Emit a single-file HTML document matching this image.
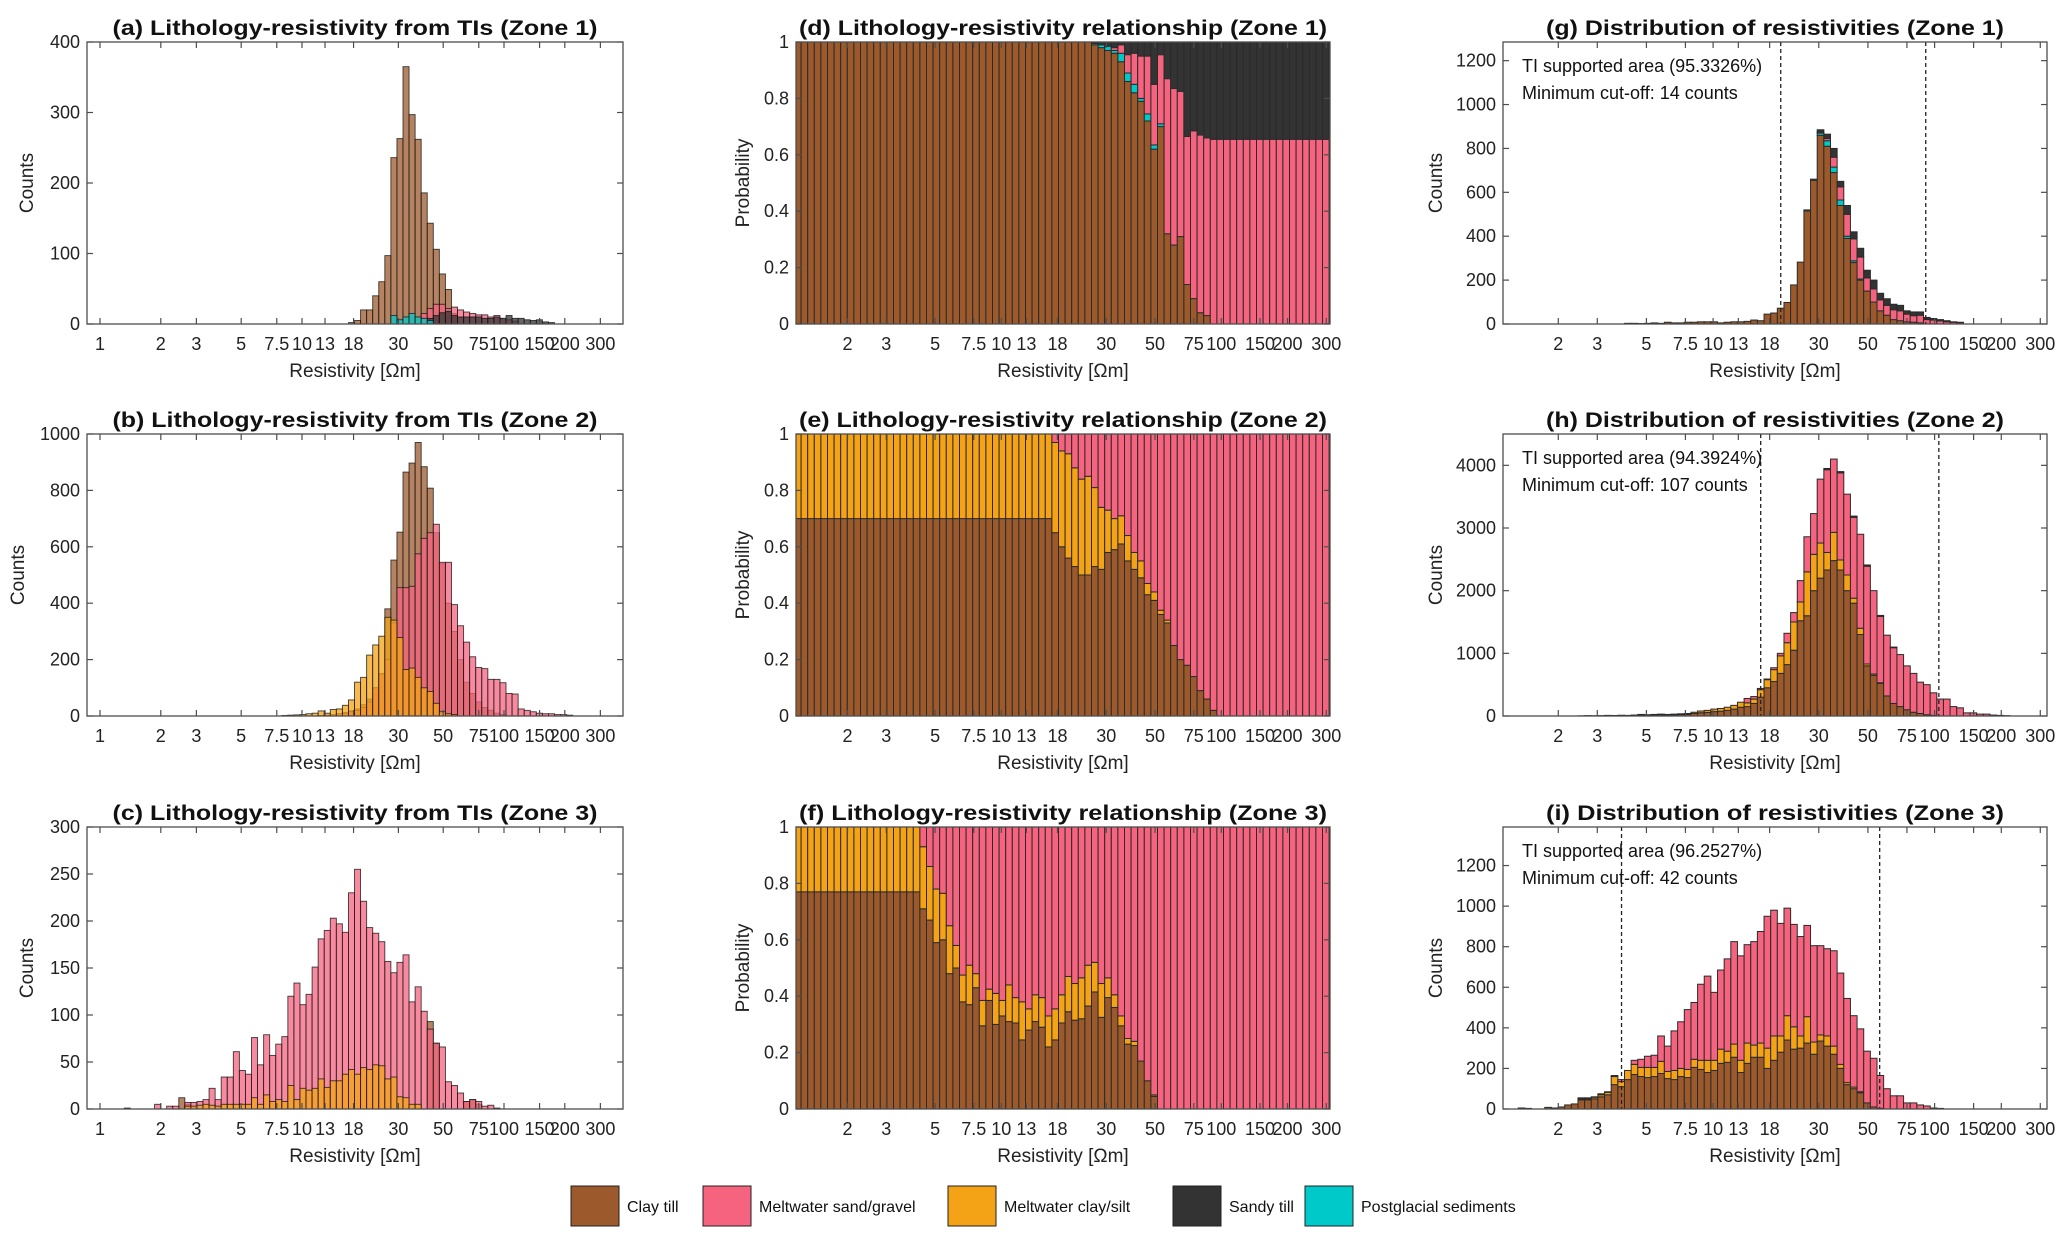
<!DOCTYPE html>
<html><head><meta charset="utf-8">
<style>
html,body{margin:0;padding:0;background:#fff;}
svg{display:block;font-family:"Liberation Sans",Arial,sans-serif;}
</style></head>
<body>
<svg id="fig" width="2067" height="1244" viewBox="0 0 2067 1244" xmlns="http://www.w3.org/2000/svg"></svg>
<script>
// ---------- data (bin k spans log10 resistivity [0.03k, 0.03(k+1)]) ----------
const aStart = 41;
const aClay  = [2,5,20,20,40,60,97,236,263,365,297,262,186,143,106,71,49,15,0,0,0,0,0,0,0,0,0,0,0,0,0,0,0,0];
const aSand  = [0,0,0,0,0,0,0,0,0,0,0,0,15,22,28,28,22,24,20,17,15,13,13,10,12,8,6,4,0,0,0,0,0,0];
const aSandy = [0,0,0,0,0,0,0,0,0,0,0,0,0,8,12,16,18,12,10,10,10,10,8,8,10,8,12,8,8,6,5,6,3,2];
const aPost  = [0,0,0,0,0,0,0,12,6,10,15,10,8,5,0,0,0,0,0,0,0,0,0,0,0,0,0,0,0,0,0,0,0,0];

const bStart = 30;
const bClay  = [0,0,0,0,0,0,2,3,5,8,12,18,25,40,60,100,150,380,553,652,865,897,970,884,808,650,540,400,300,200,120,80,50,30,20,10,5,0,0,0,0,0,0,0,0,0,0,0];
const bSand  = [0,0,0,0,0,0,0,0,0,8,10,15,20,30,50,100,150,200,330,455,455,460,575,630,650,680,545,545,395,320,262,210,172,168,130,130,118,80,78,25,20,15,10,8,8,5,5,3];
const bSilt  = [2,3,4,5,8,10,18,10,23,25,38,57,120,137,216,252,283,350,340,278,165,170,137,100,87,45,15,8,5,0,0,0,0,0,0,0,0,0,0,0,0,0,0,0,0,0,0,0];

const cStart = 4;
const cSand  = [0,0,0,0,0,5,0,3,3,0,7,7,8,10,22,10,34,34,61,41,37,76,47,79,57,69,77,120,134,111,122,151,181,190,203,197,188,230,255,221,193,187,178,157,145,156,164,114,130,104,85,70,66,29,25,17,8,10,8,3,4,1];
const cSilt  = [0,0,0,0,0,0,0,0,0,0,3,3,4,5,4,3,5,5,5,5,5,12,5,15,8,10,8,25,10,22,20,22,32,23,30,30,37,42,37,44,42,47,46,32,34,13,12,5,5,0,0,0,0,0,0,0,0,0,0,0,0,0];
const cClay  = [1,0,0,0,0,0,0,0,0,12,5,0,0,0,0,0,0,0,0,0,0,0,0,0,0,0,0,0,0,0,0,0,0,0,0,0,0,0,0,0,0,0,0,0,0,0,0,0,0,0,93,70,0,0,0,0,8,10,5,0,0,0];

const dStart = 2;
const dClay  = [1,1,1,1,1,1,1,1,1,1,1,1,1,1,1,1,1,1,1,1,1,1,1,1,1,1,1,1,1,1,1,1,1,1,1,1,1,1,1,1,1,1,1,1,1,.99,.98,.97,.96,.93,.86,.82,.79,.72,.62,.70,.32,.28,.31,.14,.09,.04,.03,0,0,0,0,0,0,0,0,0,0,0,0,0,0,0,0,0,0];
const dPost  = [0,0,0,0,0,0,0,0,0,0,0,0,0,0,0,0,0,0,0,0,0,0,0,0,0,0,0,0,0,0,0,0,0,0,0,0,0,0,0,0,0,0,0,0,0,.005,.01,.015,.01,.03,.03,.03,.01,.025,.015,.01,0,0,0,0,0,0,0,0,0,0,0,0,0,0,0,0,0,0,0,0,0,0,0,0,0];
const dSand  = [0,0,0,0,0,0,0,0,0,0,0,0,0,0,0,0,0,0,0,0,0,0,0,0,0,0,0,0,0,0,0,0,0,0,0,0,0,0,0,0,0,0,0,0,0,0,0,0,.01,.03,.065,.11,.15,.205,.215,.245,.55,.555,.515,.525,.595,.63,.63,.655,.655,.655,.655,.655,.655,.655,.655,.655,.655,.655,.655,.655,.655,.655,.655,.655,.655];
const dSandy = [0,0,0,0,0,0,0,0,0,0,0,0,0,0,0,0,0,0,0,0,0,0,0,0,0,0,0,0,0,0,0,0,0,0,0,0,0,0,0,0,0,0,0,0,0,.005,.01,.015,.02,.01,.045,.04,.05,.05,.15,.045,.13,.165,.175,.335,.315,.33,.34,.345,.345,.345,.345,.345,.345,.345,.345,.345,.345,.345,.345,.345,.345,.345,.345,.345,.345];

const eStart = 2;
const eClay  = [.7,.7,.7,.7,.7,.7,.7,.7,.7,.7,.7,.7,.7,.7,.7,.7,.7,.7,.7,.7,.7,.7,.7,.7,.7,.7,.7,.7,.7,.7,.7,.7,.7,.7,.7,.7,.7,.7,.7,.65,.60,.56,.53,.50,.50,.53,.52,.58,.59,.61,.55,.52,.49,.43,.41,.36,.33,.25,.20,.18,.14,.09,.06,.02,0,0,0,0,0,0,0,0,0,0,0,0,0,0,0,0,0];
const eSilt  = [.3,.3,.3,.3,.3,.3,.3,.3,.3,.3,.3,.3,.3,.3,.3,.3,.3,.3,.3,.3,.3,.3,.3,.3,.3,.3,.3,.3,.3,.3,.3,.3,.3,.3,.3,.3,.3,.3,.3,.32,.34,.37,.35,.34,.35,.28,.22,.15,.11,.10,.09,.06,.06,.04,.03,.015,.01,0,0,0,0,0,0,0,0,0,0,0,0,0,0,0,0,0,0,0,0,0,0,0,0];
const eSand  = [0,0,0,0,0,0,0,0,0,0,0,0,0,0,0,0,0,0,0,0,0,0,0,0,0,0,0,0,0,0,0,0,0,0,0,0,0,0,0,.03,.06,.07,.12,.16,.15,.19,.26,.27,.30,.29,.36,.42,.45,.53,.56,.625,.66,.75,.80,.82,.86,.91,.94,.98,1,1,1,1,1,1,1,1,1,1,1,1,1,1,1,1,1];

const fStart = 2;
const fClay  = [.77,.77,.77,.77,.77,.77,.77,.77,.77,.77,.77,.77,.77,.77,.77,.77,.77,.77,.77,.71,.67,.59,.60,.48,.50,.38,.37,.43,.295,.385,.30,.33,.31,.305,.245,.28,.31,.29,.22,.245,.305,.345,.315,.32,.365,.415,.325,.395,.36,.295,.23,.225,.17,.10,.045,0,0,0,0,0,0,0,0,0,0,0,0,0,0,0,0,0,0,0,0,0,0,0,0,0,0];
const fSilt  = [.23,.23,.23,.23,.23,.23,.23,.23,.23,.23,.23,.23,.23,.23,.23,.23,.23,.23,.23,.22,.19,.19,.165,.17,.08,.095,.14,.05,.09,.04,.11,.055,.13,.09,.135,.075,.095,.105,.11,.11,.10,.125,.13,.145,.145,.105,.12,.07,.045,.035,.02,.015,0,0,.005,0,0,0,0,0,0,0,0,0,0,0,0,0,0,0,0,0,0,0,0,0,0,0,0,0,0];
const fSand  = [0,0,0,0,0,0,0,0,0,0,0,0,0,0,0,0,0,0,0,.07,.14,.22,.235,.35,.42,.525,.49,.52,.615,.575,.59,.615,.56,.605,.62,.645,.595,.605,.67,.645,.595,.53,.555,.535,.49,.48,.555,.535,.595,.67,.75,.76,.83,.90,.95,1,1,1,1,1,1,1,1,1,1,1,1,1,1,1,1,1,1,1,1,1,1,1,1,1,1];

const gStart = 20;
const gClay  = [3,3,2,3,5,3,8,5,5,8,8,10,10,10,5,8,10,10,12,18,15,45,50,72,98,178,282,515,655,860,810,690,540,390,280,200,150,100,60,40,20,15,10,8,5,0,0,0,0,0,0,0,0,0,0];
const gPost  = [0,0,0,0,0,0,0,0,0,0,0,0,0,0,0,0,0,0,0,0,0,0,0,0,0,0,0,5,5,10,25,25,25,10,8,5,0,0,0,0,0,0,0,0,0,0,0,0,0,0,0,0,0,0,0];
const gSand  = [0,0,0,0,0,0,0,0,0,0,0,0,0,0,0,0,0,0,0,0,0,0,0,0,0,0,0,0,0,5,10,45,60,100,100,100,60,60,50,45,45,45,35,30,35,20,18,14,10,8,6,0,0,0,0];
const gSandy = [0,0,0,0,0,0,0,0,0,0,0,0,0,0,0,0,0,0,0,0,0,0,0,0,0,0,0,0,0,10,20,40,25,40,32,40,35,40,30,30,25,25,15,17,15,10,7,6,5,2,2,0,0,0,0];

const hStart = 13;
const hClay  = [1,3,2,3,7,5,8,7,10,16,13,16,20,16,20,23,26,40,52,58,70,78,90,110,140,150,200,300,450,550,680,820,1050,1520,1600,2000,2200,2330,2480,2330,2000,1800,1300,800,650,520,320,200,150,100,60,40,20,10,0,0,0,0,0,0,0,0,0,0,0];
const hSilt  = [1,2,1,2,3,3,4,3,5,9,7,9,10,9,10,12,14,20,28,32,40,42,50,60,80,60,70,120,130,190,280,350,450,300,700,580,560,280,450,160,250,80,100,30,20,10,0,0,0,0,0,0,0,0,0,0,0,0,0,0,0,0,0,0,0];
const hSand  = [0,0,0,0,0,0,0,0,0,0,0,0,0,0,0,0,0,0,0,0,0,0,0,0,0,70,40,20,10,30,40,150,150,340,560,650,1020,1320,1170,1390,1290,1290,1500,1560,1330,1060,970,890,830,700,620,500,480,360,270,270,150,130,50,50,30,30,15,10,5];
const hSandy = [0,0,0,0,0,0,0,0,0,0,0,0,0,0,0,0,0,0,0,0,0,0,0,0,0,0,0,0,0,0,0,0,0,0,0,0,0,20,0,20,0,20,0,20,0,15,0,10,0,0,0,0,0,0,0,0,0,0,0,0,0,0,0,0,0];

const iStart = 4;
const iClay  = [5,3,0,0,8,5,10,20,25,45,45,50,60,70,120,110,145,170,160,155,160,175,150,145,160,155,205,195,180,190,225,230,255,180,225,255,255,200,240,280,340,295,300,325,270,335,310,270,200,120,100,80,30,10,3,0,0,0,0,0,0,0,0,0];
const iSilt  = [0,0,0,0,0,0,0,0,0,5,5,8,10,12,40,25,45,50,45,50,45,60,35,45,40,40,40,45,60,50,70,55,65,60,100,60,70,100,120,80,120,110,60,130,60,30,50,40,20,10,8,5,0,0,0,0,0,0,0,0,0,0,0,0];
const iSand  = [0,0,0,0,0,0,0,0,0,5,5,2,5,3,5,10,0,20,40,55,60,125,125,195,230,295,280,375,415,335,390,455,505,515,485,510,550,650,620,555,530,505,490,450,475,440,430,470,450,415,352,310,255,240,162,100,65,65,30,30,20,15,5,3];

const xTickVals = [1,2,3,5,7.5,10,13,18,30,50,75,100,150,200,300];
const xTickLabels = ["1","2","3","5","7.5","10","13","18","30","50","75","100","150","200","300"];
const dashG = [20.2, 91.2];
const dashH = [16.4, 104.5];
const dashI = [3.86, 56.5];
const legendLabels = ["Clay till","Meltwater sand/gravel","Meltwater clay/silt","Sandy till","Postglacial sediments"];

// ---------- rendering ----------
const NS = "http://www.w3.org/2000/svg";
const svg = document.getElementById("fig");
const COL = {clay:"#9c5a2c", sand:"#f5637f", silt:"#f4a316", sandy:"#333333", post:"#00c9c9"};
const BW = 0.03;
function mk(tag, attrs, parent){
  const e = document.createElementNS(NS, tag);
  for (const k in attrs) e.setAttribute(k, attrs[k]);
  (parent||svg).appendChild(e);
  return e;
}
const cols = [
  {l:87, r:623, x0:100, ppd:202},
  {l:796, r:1330, x0:781.3, ppd:220},
  {l:1503, r:2047, x0:1491.6, ppd:221.5}
];
const rows = [{t:42,b:324},{t:434,b:716},{t:827,b:1109}];
let clipN = 0;

function panel(cfg){
  const c = cols[cfg.col], rw = rows[cfg.row];
  const g = mk("g", {});
  
  
  const xs = lg => c.x0 + lg*c.ppd;
  const ys = v => rw.b - v/cfg.ymax*(rw.b-rw.t);
  const id = "clip"+(clipN++);
  const cp = mk("clipPath", {id:id}, g);
  mk("rect", {x:c.l, y:rw.t, width:c.r-c.l, height:rw.b-rw.t}, cp);
  const bars = mk("g", {"clip-path":"url(#"+id+")"}, g);
  
  
  if (cfg.mode === "overlay"){
    cfg.series.forEach(s => {
      s.vals.forEach((v,i) => {
        if (v <= 0) return;
        const k = cfg.start + i;
        const x1 = xs(BW*k), x2 = xs(BW*(k+1));
        const r = mk("rect", {x:x1, y:ys(v), width:x2-x1, height:ys(0)-ys(v), fill:s.color, "fill-opacity":0.75, stroke:"#111", "stroke-opacity":0.8, "stroke-width":0.9}, bars);
        
        
      });
    });
  } else {
    const n = cfg.series[0].vals.length;
    for (let i=0;i<n;i++){
      let acc = 0;
      const k = cfg.start + i;
      const x1 = xs(BW*k), x2 = xs(BW*(k+1));
      cfg.series.forEach(s => {
        const v = s.vals[i];
        if (v > 0){
          const r = mk("rect", {x:x1, y:ys(acc+v), width:x2-x1, height:ys(acc)-ys(acc+v), fill:s.color, stroke:"#2a2a2a", "stroke-width":1}, bars);
          
          
        }
        acc += v;
      });
    }
  }
  if (cfg.dash){
    cfg.dash.forEach(v => {
      const x = xs(Math.log10(v));
      const dl = mk("line", {x1:x, x2:x, y1:rw.t, y2:rw.b, stroke:"#222", "stroke-width":1.3, "stroke-dasharray":"4,3"}, g);
      
      
    });
  }
  const box = mk("rect", {x:c.l, y:rw.t, width:c.r-c.l, height:rw.b-rw.t, fill:"none", stroke:"#4d4d4d", "stroke-width":1.3}, g);
  
  
  xTickVals.forEach((tv, i) => {
    const x = xs(Math.log10(tv));
    if (x < c.l-0.5 || x > c.r+0.5) return;
    mk("line", {x1:x, x2:x, y1:rw.b, y2:rw.b-6, stroke:"#4d4d4d", "stroke-width":1.2}, g);
    mk("line", {x1:x, x2:x, y1:rw.t, y2:rw.t+6, stroke:"#4d4d4d", "stroke-width":1.2}, g);
    const t = mk("text", {x:x, y:rw.b+26, "font-size":18, "text-anchor":"middle", fill:"#222"}, g);
    t.textContent = xTickLabels[i];
    
    
  });
  cfg.yticks.forEach(v => {
    const y = ys(v);
    mk("line", {x1:c.l, x2:c.l+6, y1:y, y2:y, stroke:"#4d4d4d", "stroke-width":1.2}, g);
    mk("line", {x1:c.r, x2:c.r-6, y1:y, y2:y, stroke:"#4d4d4d", "stroke-width":1.2}, g);
    const t = mk("text", {x:c.l-7, y:y+6, "font-size":18, "text-anchor":"end", fill:"#222"}, g);
    t.textContent = cfg.yfmt ? cfg.yfmt(v) : String(v);
    
    
  });
  const tt = mk("text", {x:(c.l+c.r)/2, y:rw.t-7, "font-size":21, "font-weight":"bold", "text-anchor":"middle", fill:"#111", textLength:cfg.tw, lengthAdjust:"spacingAndGlyphs"}, g);
  tt.textContent = cfg.title;
  
  
  const xl = mk("text", {x:(c.l+c.r)/2, y:rw.b+53, "font-size":19, "text-anchor":"middle", fill:"#222"}, g);
  xl.textContent = "Resistivity [\u03A9m]";
  
  
  const cy = (rw.t+rw.b)/2;
  const yl = mk("text", {x:cfg.ylx, y:cy, "font-size":19, "text-anchor":"middle", fill:"#222", transform:"rotate(-90 "+cfg.ylx+" "+cy+")"}, g);
  yl.textContent = cfg.ylabel;
  
  
  if (cfg.notes){
    cfg.notes.forEach((n, j) => {
      const t = mk("text", {x:c.l+19, y:rw.t+cfg.noteY[j], "font-size":18, fill:"#111"}, g);
      t.textContent = n;
      
      
    });
  }
}
const range = (a,b,s) => { const r=[]; for(let v=a; v<=b+1e-9; v+=s) r.push(Math.round(v*100)/100); return r; };
const pfmt = v => (v===0||v===1) ? String(v) : v.toFixed(1);

panel({name:"panel-a", col:0,row:0, mode:"overlay", start:aStart, ymax:400, yticks:range(0,400,100), ylabel:"Counts", ylx:33, tw:485,
  title:"(a) Lithology-resistivity from TIs (Zone 1)",
  series:[{key:"clay-till",vals:aClay,color:COL.clay},{key:"meltwater-sand",vals:aSand,color:COL.sand},{key:"sandy-till",vals:aSandy,color:COL.sandy},{key:"postglacial",vals:aPost,color:COL.post}]});
panel({name:"panel-b", col:0,row:1, mode:"overlay", start:bStart, ymax:1000, yticks:range(0,1000,200), ylabel:"Counts", ylx:24, tw:485,
  title:"(b) Lithology-resistivity from TIs (Zone 2)",
  series:[{key:"clay-till",vals:bClay,color:COL.clay},{key:"meltwater-sand",vals:bSand,color:COL.sand},{key:"meltwater-clay",vals:bSilt,color:COL.silt}]});
panel({name:"panel-c", col:0,row:2, mode:"overlay", start:cStart, ymax:300, yticks:range(0,300,50), ylabel:"Counts", ylx:33, tw:485,
  title:"(c) Lithology-resistivity from TIs (Zone 3)",
  series:[{key:"clay-till",vals:cClay,color:COL.clay},{key:"meltwater-sand",vals:cSand,color:COL.sand},{key:"meltwater-clay",vals:cSilt,color:COL.silt}]});

panel({name:"panel-d", col:1,row:0, mode:"stack", start:dStart, ymax:1, yticks:range(0,1,0.2), yfmt:pfmt, ylabel:"Probability", ylx:749, tw:528,
  title:"(d) Lithology-resistivity relationship (Zone 1)",
  series:[{key:"clay-till",vals:dClay,color:COL.clay},{key:"postglacial",vals:dPost,color:COL.post},{key:"meltwater-sand",vals:dSand,color:COL.sand},{key:"sandy-till",vals:dSandy,color:COL.sandy}]});
panel({name:"panel-e", col:1,row:1, mode:"stack", start:eStart, ymax:1, yticks:range(0,1,0.2), yfmt:pfmt, ylabel:"Probability", ylx:749, tw:528,
  title:"(e) Lithology-resistivity relationship (Zone 2)",
  series:[{key:"clay-till",vals:eClay,color:COL.clay},{key:"meltwater-clay",vals:eSilt,color:COL.silt},{key:"meltwater-sand",vals:eSand,color:COL.sand}]});
panel({name:"panel-f", col:1,row:2, mode:"stack", start:fStart, ymax:1, yticks:range(0,1,0.2), yfmt:pfmt, ylabel:"Probability", ylx:749, tw:528,
  title:"(f) Lithology-resistivity relationship (Zone 3)",
  series:[{key:"clay-till",vals:fClay,color:COL.clay},{key:"meltwater-clay",vals:fSilt,color:COL.silt},{key:"meltwater-sand",vals:fSand,color:COL.sand}]});

panel({name:"panel-g", col:2,row:0, mode:"stack", start:gStart, ymax:1285, yticks:range(0,1200,200), ylabel:"Counts", ylx:1442, tw:458,
  title:"(g) Distribution of resistivities (Zone 1)", dash:dashG,
  notes:["TI supported area (95.3326%)","Minimum cut-off: 14 counts"], noteY:[30,57],
  series:[{key:"clay-till",vals:gClay,color:COL.clay},{key:"postglacial",vals:gPost,color:COL.post},{key:"meltwater-sand",vals:gSand,color:COL.sand},{key:"sandy-till",vals:gSandy,color:COL.sandy}]});
panel({name:"panel-h", col:2,row:1, mode:"stack", start:hStart, ymax:4500, yticks:range(0,4000,1000), ylabel:"Counts", ylx:1442, tw:458,
  title:"(h) Distribution of resistivities (Zone 2)", dash:dashH,
  notes:["TI supported area (94.3924%)","Minimum cut-off: 107 counts"], noteY:[30,57],
  series:[{key:"clay-till",vals:hClay,color:COL.clay},{key:"meltwater-clay",vals:hSilt,color:COL.silt},{key:"meltwater-sand",vals:hSand,color:COL.sand},{key:"sandy-till",vals:hSandy,color:COL.sandy}]});
panel({name:"panel-i", col:2,row:2, mode:"stack", start:iStart, ymax:1390, yticks:range(0,1200,200), ylabel:"Counts", ylx:1442, tw:458,
  title:"(i) Distribution of resistivities (Zone 3)", dash:dashI,
  notes:["TI supported area (96.2527%)","Minimum cut-off: 42 counts"], noteY:[30,57],
  series:[{key:"clay-till",vals:iClay,color:COL.clay},{key:"meltwater-clay",vals:iSilt,color:COL.silt},{key:"meltwater-sand",vals:iSand,color:COL.sand}]});

const legendColors = [COL.clay, COL.sand, COL.silt, COL.sandy, COL.post];
const legendX = [571, 703, 948, 1173, 1305];
const lg = mk("g", {});


legendLabels.forEach((lab, i) => {
  const item = mk("g", {}, lg);
  
  
  mk("rect", {x:legendX[i], y:1186, width:48, height:40, fill:legendColors[i], stroke:"#222", "stroke-width":1}, item);
  const t = mk("text", {x:legendX[i]+56, y:1212, "font-size":16, fill:"#111"}, item);
  t.textContent = lab;
});
</script>
</body></html>
